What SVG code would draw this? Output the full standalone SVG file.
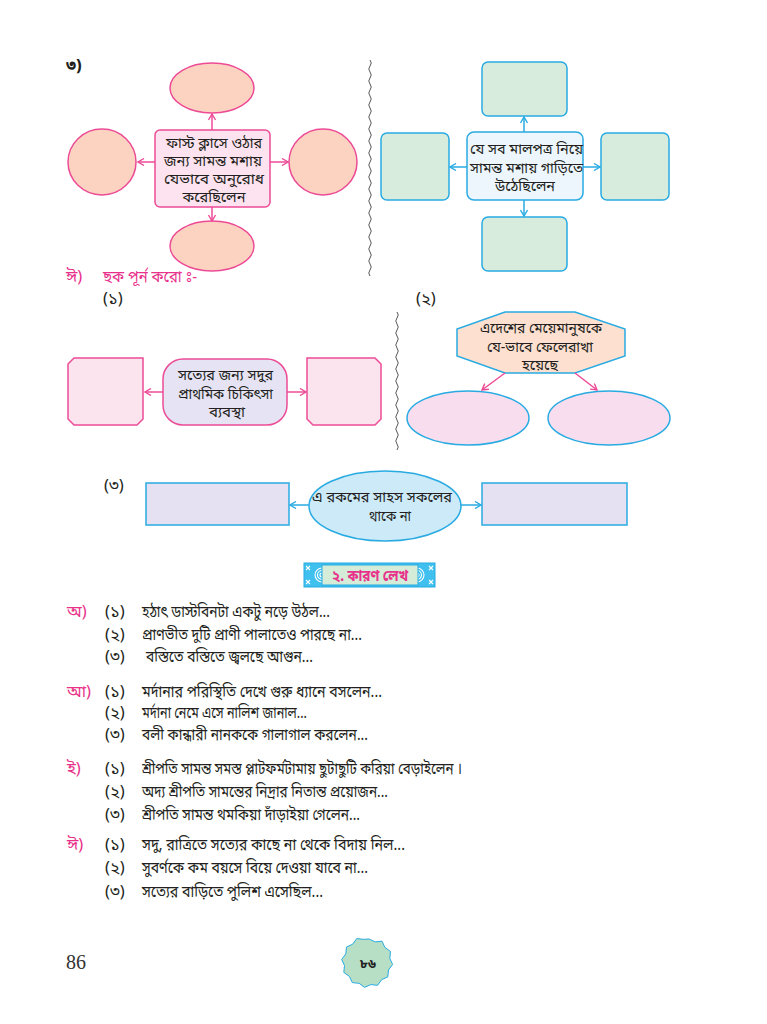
<svg xmlns="http://www.w3.org/2000/svg" width="767" height="1024" viewBox="0 0 767 1024">
<style>
.t{font-family:"Noto Sans Bengali","Noto Serif Bengali","Lohit Bengali","Noto Sans",sans-serif;font-size:14.6px;fill:#231f20}
.c{text-anchor:middle}
.l{font-family:"Noto Sans Bengali","Noto Serif Bengali","Lohit Bengali","Noto Sans",sans-serif;font-size:16.5px;fill:#231f20}
.pk{fill:#e8318a}
.ps{stroke:#ec4b96;stroke-width:1.5}
.cs{stroke:#29abe2;stroke-width:1.5}
.wave{fill:none;stroke:#444;stroke-width:0.9}
</style>
<defs>
<marker id="ap" viewBox="0 0 8 8" refX="7" refY="4" markerWidth="8" markerHeight="8" markerUnits="userSpaceOnUse" orient="auto"><path d="M1,0.5 L7,4 L1,7.5" fill="none" stroke="#ec4b96" stroke-width="1.4"/></marker>
<marker id="ac" viewBox="0 0 8 8" refX="7" refY="4" markerWidth="8" markerHeight="8" markerUnits="userSpaceOnUse" orient="auto"><path d="M1,0.5 L7,4 L1,7.5" fill="none" stroke="#29abe2" stroke-width="1.4"/></marker>
</defs>
<rect width="767" height="1024" fill="#fff"/>

<text class="l" x="66" y="71" font-weight="bold">৩)</text>

<!-- wavy separators -->
<path class="wave" d="M370,60 q2.5,3 0,6 t0,6 t0,6 t0,6 t0,6 t0,6 t0,6 t0,6 t0,6 t0,6 t0,6 t0,6 t0,6 t0,6 t0,6 t0,6 t0,6 t0,6 t0,6 t0,6 t0,6 t0,6 t0,6 t0,6 t0,6 t0,6 t0,6 t0,6 t0,6 t0,6 t0,6 t0,6 t0,6 t0,6 t0,6 t0,6"/>
<path class="wave" d="M397,312 q2.5,3 0,6 t0,6 t0,6 t0,6 t0,6 t0,6 t0,6 t0,6 t0,6 t0,6 t0,6 t0,6 t0,6 t0,6 t0,6 t0,6 t0,6 t0,6 t0,6 t0,6 t0,6 t0,6 t0,6"/>

<!-- Diagram A (pink) -->
<g id="a-top"><ellipse cx="212" cy="88" rx="42" ry="25" fill="#fcd3c0" class="ps"/></g>
<g id="a-left"><ellipse cx="102" cy="162" rx="34" ry="33" fill="#fcd3c0" class="ps"/></g>
<g id="a-right"><ellipse cx="323" cy="162" rx="34" ry="33" fill="#fcd3c0" class="ps"/></g>
<g id="a-bottom"><ellipse cx="212" cy="246" rx="42" ry="25" fill="#fcd3c0" class="ps"/></g>
<g id="a-center">
<rect x="155" y="130" width="115" height="77" rx="5" fill="#fde3ef" class="ps"/>
<text class="t c" x="214" y="148" textLength="96" lengthAdjust="spacingAndGlyphs">ফাস্ট ক্লাসে ওঠার</text>
<text class="t c" x="213" y="166" textLength="98" lengthAdjust="spacingAndGlyphs">জন্য সামন্ত মশায়</text>
<text class="t c" x="214" y="184" textLength="100" lengthAdjust="spacingAndGlyphs">যেভাবে অনুরোধ</text>
<text class="t c" x="214" y="202" textLength="63" lengthAdjust="spacingAndGlyphs">করেছিলেন</text>
</g>

<!-- Diagram B (cyan boxes) -->
<g id="b-top"><rect x="482" y="62" width="85" height="54" rx="6" fill="#d8ecdd" class="cs"/></g>
<g id="b-left"><rect x="381" y="133" width="68" height="67" rx="6" fill="#d8ecdd" class="cs"/></g>
<g id="b-right"><rect x="601" y="133" width="68" height="67" rx="6" fill="#d8ecdd" class="cs"/></g>
<g id="b-bottom"><rect x="482" y="217" width="85" height="54" rx="6" fill="#d8ecdd" class="cs"/></g>
<g id="b-center">
<rect x="467" y="132" width="116" height="68" rx="7" fill="#edf6fd" class="cs"/>
<text class="t c" x="526.5" y="154" textLength="113" lengthAdjust="spacingAndGlyphs">যে সব মালপত্র নিয়ে</text>
<text class="t c" x="526.5" y="172.5" textLength="113" lengthAdjust="spacingAndGlyphs">সামন্ত মশায় গাড়িতে</text>
<text class="t c" x="525" y="191" textLength="60" lengthAdjust="spacingAndGlyphs">উঠেছিলেন</text>
</g>

<text class="l pk" x="66" y="282">ঈ)</text>
<text class="l pk" x="103" y="282" textLength="94" lengthAdjust="spacingAndGlyphs">ছক পূর্ন করো&#160;ঃ-</text>
<text class="l" x="103" y="304">(১)</text>
<text class="l" x="416" y="304">(২)</text>

<!-- Diagram C1 -->
<g id="c1-left"><path d="M74,358 H143 V419 L137,425 H74 L68,419 V364 Z" fill="#fce4ef" class="ps"/></g>
<g id="c1-right"><path d="M307,358 H375 L381,364 V419 L375,425 H313 L307,419 Z" fill="#fce4ef" class="ps"/></g>
<g id="c1-center">
<rect x="163" y="359" width="124" height="66" rx="20" fill="#e6e4f4" class="ps"/>
<text class="t c" x="225.5" y="380" textLength="95" lengthAdjust="spacingAndGlyphs">সত্যের জন্য সদুর</text>
<text class="t c" x="225.5" y="398.5" textLength="95" lengthAdjust="spacingAndGlyphs">প্রাথমিক চিকিৎসা</text>
<text class="t c" x="227" y="417" textLength="36" lengthAdjust="spacingAndGlyphs">ব্যবস্থা</text>
</g>

<!-- Diagram C2 -->
<g id="c2-top">
<path d="M505,312 H575 L625,329 V356 L575,373 H505 L457,356 V329 Z" fill="#fde0d0" class="cs"/>
<text class="t c" x="541" y="333" textLength="122" lengthAdjust="spacingAndGlyphs">এদেশের মেয়েমানুষকে</text>
<text class="t c" x="540" y="351.5" textLength="106" lengthAdjust="spacingAndGlyphs">যে-ভাবে ফেলেরাখা</text>
<text class="t c" x="540" y="370" textLength="36" lengthAdjust="spacingAndGlyphs">হয়েছে</text>
</g>
<g id="c2-left"><ellipse cx="468" cy="418" rx="61" ry="27" fill="#f8ddef" class="cs"/></g>
<g id="c2-right"><ellipse cx="609" cy="418" rx="61" ry="27" fill="#f8ddef" class="cs"/></g>

<!-- Diagram C3 -->
<text class="l" x="104" y="491">(৩)</text>
<g id="c3-left"><rect x="146" y="483" width="143" height="42" fill="#e5e0f2" class="cs"/></g>
<g id="c3-right"><rect x="482" y="483" width="145" height="42" fill="#e5e0f2" class="cs"/></g>
<g id="c3-center">
<ellipse cx="385" cy="506" rx="76" ry="35" fill="#cdeaf9" class="cs"/>
<text class="t c" x="382" y="502" textLength="140" lengthAdjust="spacingAndGlyphs">এ রকমের সাহস সকলের</text>
<text class="t c" x="390" y="521" textLength="42" lengthAdjust="spacingAndGlyphs">থাকে না</text>
</g>

<!-- connectors -->
<g id="connectors" fill="none">
<line x1="212" y1="130" x2="212" y2="114" class="ps" marker-end="url(#ap)"/>
<line x1="155" y1="162" x2="138" y2="162" class="ps" marker-end="url(#ap)"/>
<line x1="270" y1="162" x2="288" y2="162" class="ps" marker-end="url(#ap)"/>
<line x1="212" y1="207" x2="212" y2="221" class="ps" marker-end="url(#ap)"/>
<line x1="524" y1="132" x2="524" y2="117" class="cs" marker-end="url(#ac)"/>
<line x1="467" y1="167" x2="450" y2="167" class="cs" marker-end="url(#ac)"/>
<line x1="583" y1="167" x2="600" y2="167" class="cs" marker-end="url(#ac)"/>
<line x1="524" y1="200" x2="524" y2="216" class="cs" marker-end="url(#ac)"/>
<line x1="163" y1="392" x2="145" y2="392" class="ps" marker-end="url(#ap)"/>
<line x1="287" y1="392" x2="306" y2="392" class="ps" marker-end="url(#ap)"/>
<line x1="505" y1="373" x2="482" y2="390" class="ps" marker-end="url(#ap)"/>
<line x1="575" y1="373" x2="597" y2="390" class="ps" marker-end="url(#ap)"/>
<line x1="309" y1="505" x2="290" y2="505" class="cs" marker-end="url(#ac)"/>
<line x1="460" y1="505" x2="481" y2="505" class="cs" marker-end="url(#ac)"/>
</g>

<!-- section header -->
<g id="header">
<rect x="304" y="563" width="131" height="24" fill="#40c0ee" stroke="#29abe2" stroke-width="1"/>
<g fill="none" stroke="#fff" stroke-width="1.1">
<path d="M322,568 a7,7 0 0 0 0,14 M322,570.5 a4.5,4.5 0 0 0 0,9 M322,573 a2,2 0 0 0 0,4"/>
<path d="M417,568 a7,7 0 0 1 0,14 M417,570.5 a4.5,4.5 0 0 1 0,9 M417,573 a2,2 0 0 1 0,4"/>
<path d="M306,566 l4,4 m-4,0 l4,-4 M306,580 l4,4 m-4,0 l4,-4 M429,566 l4,4 m-4,0 l4,-4 M429,580 l4,4 m-4,0 l4,-4"/>
</g>
<rect x="322" y="565" width="96" height="20" fill="#d4ecd8" stroke="#29abe2" stroke-width="1"/>
<text x="370" y="581" text-anchor="middle" font-family="'Noto Sans Bengali','Noto Sans',sans-serif" font-size="15" font-weight="bold" fill="#e8318a" textLength="76" lengthAdjust="spacingAndGlyphs">২. কারণ লেখ</text>
</g>

<!-- list -->
<g id="list">
<text class="l pk" x="67" y="617">অ)</text>
<text class="l" x="105" y="617">(১)</text><text class="l" x="142" y="617" textLength="188" lengthAdjust="spacingAndGlyphs">হঠাৎ ডাস্টবিনটা একটু নড়ে উঠল...</text>
<text class="l" x="105" y="640">(২)</text><text class="l" x="142" y="640" textLength="220" lengthAdjust="spacingAndGlyphs">প্রাণভীত দুটি প্রাণী পালাতেও পারছে না...</text>
<text class="l" x="105" y="662">(৩)</text><text class="l" x="146" y="662" textLength="167" lengthAdjust="spacingAndGlyphs">বস্তিতে বস্তিতে জ্বলছে আগুন...</text>

<text class="l pk" x="67" y="697">আ)</text>
<text class="l" x="105" y="697">(১)</text><text class="l" x="142" y="697" textLength="240" lengthAdjust="spacingAndGlyphs">মর্দানার পরিস্থিতি দেখে গুরু ধ্যানে বসলেন...</text>
<text class="l" x="105" y="718">(২)</text><text class="l" x="142" y="718" textLength="165" lengthAdjust="spacingAndGlyphs">মর্দানা নেমে এসে নালিশ জানাল...</text>
<text class="l" x="105" y="740">(৩)</text><text class="l" x="142" y="740" textLength="226" lengthAdjust="spacingAndGlyphs">বলী কান্ধারী নানককে গালাগাল করলেন...</text>

<text class="l pk" x="67" y="774">ই)</text>
<text class="l" x="105" y="774">(১)</text><text class="l" x="142" y="774" textLength="320" lengthAdjust="spacingAndGlyphs">শ্রীপতি সামন্ত সমস্ত প্লাটফর্মটামায় ছুটাছুটি করিয়া বেড়াইলেন ।</text>
<text class="l" x="105" y="797">(২)</text><text class="l" x="142" y="797" textLength="246" lengthAdjust="spacingAndGlyphs">অদ্য শ্রীপতি সামন্তের নিদ্রার নিতান্ত প্রয়োজন...</text>
<text class="l" x="105" y="820">(৩)</text><text class="l" x="142" y="820" textLength="218" lengthAdjust="spacingAndGlyphs">শ্রীপতি সামন্ত থমকিয়া দাঁড়াইয়া গেলেন...</text>

<text class="l pk" x="67" y="850">ঈ)</text>
<text class="l" x="105" y="850">(১)</text><text class="l" x="142" y="850" textLength="263" lengthAdjust="spacingAndGlyphs">সদু, রাত্রিতে সত্যের কাছে না থেকে বিদায় নিল...</text>
<text class="l" x="105" y="873">(২)</text><text class="l" x="142" y="873" textLength="226" lengthAdjust="spacingAndGlyphs">সুবর্ণকে কম বয়সে বিয়ে দেওয়া যাবে না...</text>
<text class="l" x="105" y="897">(৩)</text><text class="l" x="142" y="897" textLength="181" lengthAdjust="spacingAndGlyphs">সত্যের বাড়িতে পুলিশ এসেছিল...</text>
</g>

<!-- footer -->
<text x="66" y="969" font-family="'Liberation Serif',serif" font-size="20" fill="#333">86</text>
<g id="badge">
<path d="M369,939 L375.2,941.9 L382,941.2 L384.9,947.4 L390.5,951.5 L389.8,958.3 L392.6,964.5 L388.5,970 L387.8,976.9 L381.6,979.7 L377.6,985.3 L370.8,984.6 L364.6,987.4 L359.1,983.3 L352.3,982.6 L349.4,976.4 L343.8,972.4 L344.5,965.6 L341.7,959.4 L345.8,953.9 L346.5,947 L352.7,944.2 L356.7,938.6 L363.5,939.3 Z" fill="#b7dfc5" stroke="#29abe2" stroke-width="1"/>
<text x="368" y="968" text-anchor="middle" font-family="'Noto Sans Bengali','Noto Sans',sans-serif" font-size="13" font-weight="bold" fill="#222">৮৬</text>
</g>
</svg>
